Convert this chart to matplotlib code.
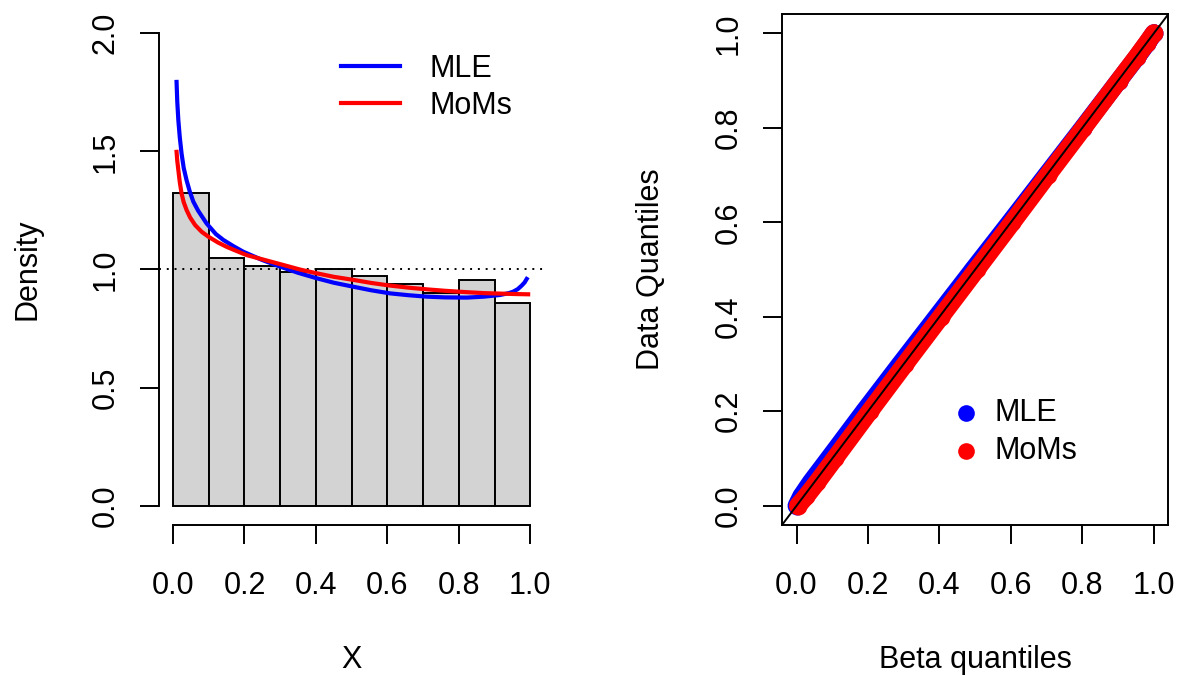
import numpy as np
import matplotlib
matplotlib.use('Agg')
import matplotlib.pyplot as plt

plt.rcParams['font.family'] = ['Liberation Sans', 'DejaVu Sans']

# histogram (density scale)
bin_edges = [0.0, 0.1, 0.2, 0.3, 0.4, 0.5, 0.6, 0.7, 0.8, 0.9, 1.0]
hist_density = [1.323, 1.047, 1.013, 0.988, 1.003, 0.972, 0.940, 0.900, 0.957, 0.860]

# fitted beta densities
mle_x = [0.010, 0.012, 0.015, 0.019, 0.024, 0.030, 0.038, 0.047, 0.057, 0.070,
         0.094, 0.120, 0.141, 0.170, 0.197, 0.250, 0.300, 0.350, 0.402, 0.450,
         0.505, 0.555, 0.607, 0.660, 0.710, 0.760, 0.822, 0.870, 0.915, 0.940,
         0.952, 0.965, 0.976, 0.984, 0.990]
mle_y = [1.794, 1.710, 1.632, 1.560, 1.491, 1.430, 1.378, 1.330, 1.287, 1.250,
         1.195, 1.150, 1.125, 1.098, 1.075, 1.040, 1.012, 0.986, 0.963, 0.944,
         0.927, 0.912, 0.899, 0.891, 0.885, 0.882, 0.881, 0.885, 0.892, 0.900,
         0.906, 0.917, 0.932, 0.945, 0.960]
mom_x = [0.010, 0.012, 0.015, 0.019, 0.024, 0.030, 0.038, 0.048, 0.062, 0.080,
         0.099, 0.125, 0.150, 0.180, 0.206, 0.260, 0.309, 0.355, 0.402, 0.450,
         0.505, 0.555, 0.607, 0.660, 0.710, 0.760, 0.822, 0.870, 0.915, 0.960,
         0.994]
mom_y = [1.498, 1.460, 1.421, 1.370, 1.322, 1.285, 1.252, 1.220, 1.188, 1.160,
         1.139, 1.115, 1.096, 1.077, 1.061, 1.039, 1.019, 1.000, 0.984, 0.969,
         0.956, 0.943, 0.932, 0.923, 0.916, 0.910, 0.904, 0.900, 0.898, 0.896,
         0.895]

# QQ plot: data quantiles vs beta quantiles
q_data = [0.0, 0.02, 0.05, 0.1, 0.2, 0.3, 0.4, 0.5, 0.6, 0.7, 0.8, 0.9, 0.95, 0.98, 1.0]
qq_mle = [0.0, 0.013, 0.040, 0.090, 0.189, 0.290, 0.392, 0.494, 0.597, 0.699, 0.801, 0.902, 0.953, 0.982, 1.0]
qq_mom = [0.004, 0.027, 0.058, 0.107, 0.205, 0.304, 0.404, 0.504, 0.604, 0.703, 0.803, 0.902, 0.952, 0.981, 1.0]

blue = '#0000FF'
red = '#FF0000'
fs = 22
lw = 1.4

fig = plt.figure(figsize=(11.79, 6.75), dpi=100)
ax1 = fig.add_axes([0.1346, 0.2228, 0.3273, 0.7559])
ax2 = fig.add_axes([0.6635, 0.2228, 0.3273, 0.7559])

# ---- left: histogram + densities
widths = np.diff(bin_edges)
ax1.bar(bin_edges[:-1], hist_density, width=widths, align='edge',
        color='#D3D3D3', edgecolor='black', linewidth=lw, zorder=1)
ax1.axhline(1.0, color='black', linewidth=lw, linestyle=(0, (1, 3)), zorder=2)
ax1.plot(mle_x, mle_y, color=blue, linewidth=3, label='MLE', zorder=3)
ax1.plot(mom_x, mom_y, color=red, linewidth=3, label='MoMs', zorder=3)

ax1.set_xlim(-0.04, 1.04)
ax1.set_ylim(-0.08, 2.08)
ax1.set_xticks([0.0, 0.2, 0.4, 0.6, 0.8, 1.0])
ax1.set_yticks([0.0, 0.5, 1.0, 1.5, 2.0])
ax1.set_xticklabels(['0.0', '0.2', '0.4', '0.6', '0.8', '1.0'])
ax1.set_yticklabels(['0.0', '0.5', '1.0', '1.5', '2.0'])
ax1.spines['top'].set_visible(False)
ax1.spines['right'].set_visible(False)
ax1.spines['left'].set_bounds(0, 2)
ax1.spines['bottom'].set_bounds(0, 1)
ax1.legend(frameon=False, fontsize=fs, handlelength=1.93, handletextpad=0.96,
           labelspacing=0.25, borderpad=0, borderaxespad=0,
           loc='center left', bbox_to_anchor=(0.472, 0.857))

# ---- right: QQ plot
ax2.plot(qq_mle, q_data, color=blue, linewidth=13, solid_capstyle='round', zorder=2)
ax2.scatter(qq_mle, q_data, s=169, color=blue, label='MLE', zorder=2, linewidths=0)
ax2.plot(qq_mom, q_data, color=red, linewidth=13, solid_capstyle='round', zorder=3)
ax2.scatter(qq_mom, q_data, s=169, color=red, label='MoMs', zorder=3, linewidths=0)
ax2.axline((0, 0), slope=1, color='black', linewidth=lw, zorder=4)

ax2.set_xlim(-0.04, 1.04)
ax2.set_ylim(-0.04, 1.04)
ticks = [0.0, 0.2, 0.4, 0.6, 0.8, 1.0]
ax2.set_xticks(ticks)
ax2.set_yticks(ticks)
ax2.set_xticklabels(['0.0', '0.2', '0.4', '0.6', '0.8', '1.0'])
ax2.set_yticklabels(['0.0', '0.2', '0.4', '0.6', '0.8', '1.0'])
leg = ax2.legend(frameon=False, fontsize=fs, scatterpoints=1, handlelength=1.0,
                 handletextpad=0.45, labelspacing=0.25, borderpad=0, borderaxespad=0,
                 loc='center left', bbox_to_anchor=(0.4356, 0.1815))
for h in leg.legend_handles:
    h.set_sizes([144])

for ax in (ax1, ax2):
    for sp in ax.spines.values():
        sp.set_linewidth(lw)
    ax.tick_params(axis='both', direction='out', length=13.5, width=lw,
                   labelsize=fs, top=False, right=False)
    ax.tick_params(axis='x', pad=20)
    ax.tick_params(axis='y', pad=14, labelrotation=90)
    for t in ax.get_yticklabels():
        t.set_va('center')

ax1.set_xlabel('X', fontsize=fs)
ax1.set_ylabel('Density', fontsize=fs)
ax2.set_xlabel('Beta quantiles', fontsize=fs)
ax2.set_ylabel('Data Quantiles', fontsize=fs)
for ax in (ax1, ax2):
    ax.xaxis.set_label_coords(0.5, -0.281)
    ax.xaxis.label.set_va('baseline')
    ax.yaxis.set_label_coords(-0.319, 0.5)
    ax.yaxis.label.set_rotation_mode('anchor')
    ax.yaxis.label.set_va('baseline')
    ax.yaxis.label.set_ha('center')

fig.savefig('out.png', dpi=100)
